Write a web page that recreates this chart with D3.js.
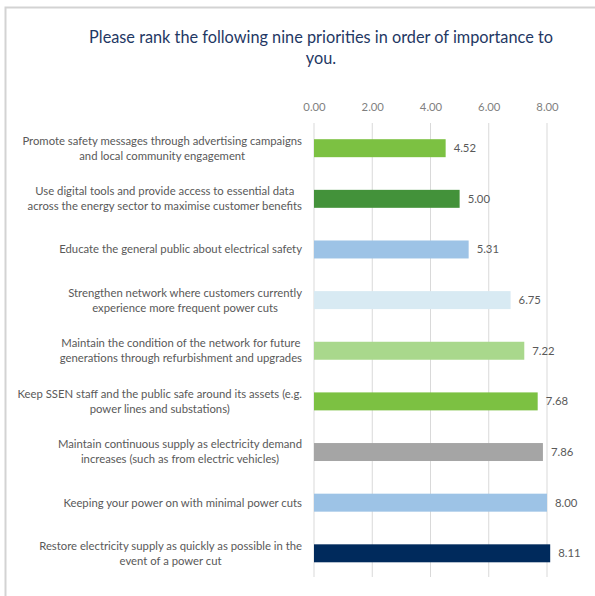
<!DOCTYPE html>
<html><head><meta charset="utf-8">
<script src="https://cdn.jsdelivr.net/npm/d3@7"></script>
<style>html,body{margin:0;padding:0;background:#fff;}svg{display:block;}</style>
</head><body>
<svg id="chart" width="595" height="596"></svg>
<script>
const titleLines = ["Please rank the following nine priorities in order of importance to", "you."];
const categories = [
  "Promote safety messages through advertising campaigns\nand local community engagement",
  "Use digital tools and provide access to essential data\nacross the energy sector to maximise customer benefits",
  "Educate the general public about electrical safety",
  "Strengthen network where customers currently\nexperience more frequent power cuts",
  "Maintain the condition of the network for future\ngenerations through refurbishment and upgrades",
  "Keep SSEN staff and the public safe around its assets (e.g.\npower lines and substations)",
  "Maintain continuous supply as electricity demand\nincreases (such as from electric vehicles)",
  "Keeping your power on with minimal power cuts",
  "Restore electricity supply as quickly as possible in the\nevent of a power cut"
];
const values = [4.52, 5.00, 5.31, 6.75, 7.22, 7.68, 7.86, 8.00, 8.11];
const colors = ["#7cc142", "#43923a", "#9dc3e6", "#d8eaf3", "#a9d88c", "#7cc142", "#a5a5a5", "#9dc3e6", "#002a5c"];
const ticks = [0, 2, 4, 6, 8];

const svg = d3.select("#chart");
const font = "Lato, 'Open Sans', sans-serif";
const fs = 11.3;

// outer frame
svg.append("rect").attr("x", 5.5).attr("y", 7.5).attr("width", 600).attr("height", 600)
  .attr("fill", "none").attr("stroke", "#d3d3d3").attr("stroke-width", 2);

// title
svg.selectAll("text.title").data(titleLines).join("text")
  .attr("class", "title")
  .attr("x", 321).attr("y", (d, i) => 43 + i * 21)
  .attr("text-anchor", "middle")
  .attr("font-family", font).attr("font-size", 16.3)
  .attr("fill", "#1f3864")
  .text(d => d);

const x = d3.scaleLinear().domain([0, 8]).range([314, 547]);
const y = d3.scaleBand().domain(d3.range(categories.length)).range([123, 578.5]).paddingInner(0.645).paddingOuter(0.32);

// gridlines
svg.append("g").selectAll("line").data(ticks).join("line")
  .attr("x1", d => x(d)).attr("x2", d => x(d))
  .attr("y1", 123).attr("y2", 577)
  .attr("stroke", "#d9d9d9").attr("stroke-width", 1);

// top axis labels
const axis = d3.axisTop(x).tickValues(ticks).tickFormat(d3.format(".2f")).tickSize(0).tickPadding(0);
const ag = svg.append("g").attr("transform", "translate(0,110.5)").call(axis);
ag.select(".domain").remove();
ag.selectAll("text").attr("font-family", font).attr("font-size", fs).attr("fill", "#7f7f7f");

// bars
svg.append("g").selectAll("rect").data(values).join("rect")
  .attr("x", x(0))
  .attr("y", (d, i) => y(i))
  .attr("width", d => x(d) - x(0))
  .attr("height", y.bandwidth())
  .attr("fill", (d, i) => colors[i]);

// value labels
svg.append("g").selectAll("text").data(values).join("text")
  .attr("x", d => x(d) + 8)
  .attr("y", (d, i) => y(i) + y.bandwidth() / 2)
  .attr("dy", "0.35em")
  .attr("font-family", font).attr("font-size", fs).attr("fill", "#595959")
  .text(d => d3.format(".2f")(d));

// category labels
const cg = svg.append("g").selectAll("text").data(categories).join("text")
  .attr("text-anchor", "middle")
  .attr("font-family", font).attr("font-size", fs).attr("fill", "#595959");
cg.each(function(d, i) {
  const lines = d.split("\n");
  const cy = y(i) + y.bandwidth() / 2;
  const lh = 15;
  const t = d3.select(this);
  lines.forEach((l, k) => {
    t.append("tspan").attr("y", cy + (k - (lines.length - 1) / 2) * lh).attr("dy", "0.35em").text(l);
  });
});
// right-align the block, centring each line within it
cg.each(function() {
  const t = d3.select(this);
  const tspans = t.selectAll("tspan").nodes();
  const w = d3.max(tspans, n => n.getComputedTextLength());
  t.selectAll("tspan").attr("x", 302 - w / 2);
});
</script>
</body></html>
